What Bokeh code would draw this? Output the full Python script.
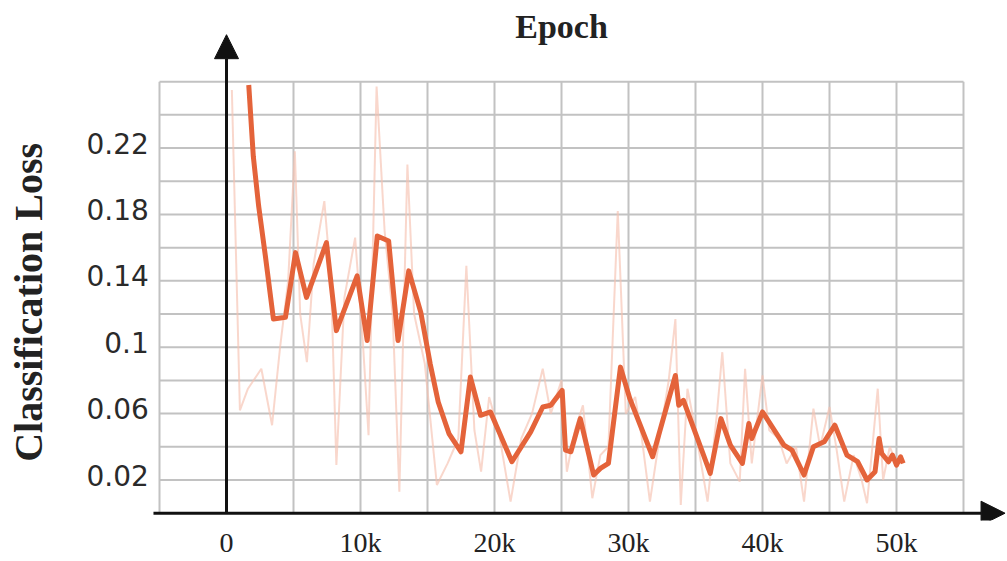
import numpy as np
from bokeh.plotting import figure
from bokeh.models import Arrow, NormalHead, FixedTicker
from bokeh.core.properties import value
from bokeh.embed import file_html
from bokeh.resources import INLINE

# ---------------- data ----------------
smooth_steps = [1660, 2000, 2400, 2900, 3500, 4400, 5150, 5970, 7460, 8200, 9750, 10500,
                11250, 12100, 12800, 13600, 14500, 15200, 15800, 16600, 17500, 18200,
                18960, 19700, 21300, 22700, 23600, 24200, 25050, 25300, 25700, 26400,
                27400, 27900, 28500, 29400, 30100, 31800, 33500, 33750, 34100, 36100,
                36900, 37600, 38500, 38980, 39200, 40000, 41600, 42200, 43100, 43800,
                44600, 45400, 46300, 47100, 47800, 48400, 48700, 48900, 49400, 49700,
                50000, 50300, 50500]
smooth_loss = [0.258, 0.215, 0.185, 0.155, 0.117, 0.118, 0.157, 0.130, 0.163, 0.110, 0.143,
               0.104, 0.167, 0.164, 0.104, 0.146, 0.121, 0.090, 0.067, 0.048, 0.037, 0.082,
               0.059, 0.061, 0.031, 0.049, 0.064, 0.065, 0.074, 0.038, 0.037, 0.057, 0.023,
               0.027, 0.030, 0.088, 0.069, 0.034, 0.083, 0.065, 0.068, 0.024, 0.057, 0.041,
               0.030, 0.054, 0.045, 0.061, 0.041, 0.038, 0.023, 0.040, 0.043, 0.053, 0.035,
               0.031, 0.020, 0.025, 0.045, 0.036, 0.031, 0.035, 0.029, 0.034, 0.030]

raw_steps = [400, 1000, 1600, 2600, 3400, 4000, 4600, 5100, 5500, 6000, 6500, 7300, 7800,
             8200, 8800, 9600, 10200, 10600, 11200, 11800, 12400, 12900, 13500, 14000,
             14800, 15700, 16500, 17300, 17900, 18500, 19000, 19600, 20300, 21200, 22000,
             22800, 23600, 24200, 25000, 25400, 26000, 26600, 27300, 27900, 28500, 29200,
             29800, 30500, 31000, 31600, 32400, 33000, 33500, 33900, 34400, 35000, 35900,
             36600, 37000, 37600, 38300, 38700, 39200, 40000, 40500, 41200, 41800, 42500,
             43100, 43800, 44300, 45000, 45500, 46100, 46800, 47400, 47800, 48200, 48600,
             49000, 49500, 50000]
raw_loss = [0.255, 0.062, 0.075, 0.087, 0.053, 0.100, 0.140, 0.218, 0.120, 0.091, 0.150,
            0.188, 0.140, 0.029, 0.130, 0.166, 0.100, 0.047, 0.257, 0.170, 0.120, 0.013,
            0.210, 0.120, 0.090, 0.017, 0.030, 0.045, 0.149, 0.050, 0.025, 0.070, 0.050,
            0.007, 0.045, 0.060, 0.087, 0.060, 0.080, 0.025, 0.050, 0.065, 0.009, 0.035,
            0.040, 0.182, 0.060, 0.070, 0.045, 0.007, 0.050, 0.080, 0.117, 0.005, 0.075,
            0.050, 0.007, 0.060, 0.097, 0.030, 0.019, 0.087, 0.030, 0.083, 0.050, 0.045,
            0.030, 0.040, 0.007, 0.063, 0.040, 0.064, 0.040, 0.007, 0.035, 0.020, 0.006,
            0.040, 0.075, 0.020, 0.040, 0.030]

x_ticks = [0, 10000, 20000, 30000, 40000, 50000]
x_tick_labels = ["0", "10k", "20k", "30k", "40k", "50k"]
y_ticks = [0.02, 0.06, 0.10, 0.14, 0.18, 0.22]
y_tick_labels = ["0.02", "0.06", "0.1", "0.14", "0.18", "0.22"]

title_text = "Epoch"
y_label_text = "Classification Loss"

# grid extent of the original chart
GX_MIN, GX_MAX, GX_STEP = -5000, 55000, 5000
GY_MIN, GY_MAX, GY_STEP = 0.0, 0.26, 0.02

# ---------------- figure ----------------
p = figure(width=1006, height=560, output_backend="svg", toolbar_location=None,
           x_range=(-16866, 58209), y_range=(-0.0044, 0.3089),
           min_border_left=0, min_border_right=0, min_border_top=0,
           min_border_bottom=40)
p.outline_line_color = None
p.xgrid.visible = False
p.ygrid.visible = False
p.yaxis.visible = False
p.background_fill_color = "white"
p.border_fill_color = "white"

# grid as segments
gx = np.arange(GX_MIN, GX_MAX + 1, GX_STEP)
gy = np.arange(GY_MIN + GY_STEP, GY_MAX + GY_STEP / 2, GY_STEP)
p.segment(x0=gx, y0=np.full(len(gx), GY_MIN), x1=gx, y1=np.full(len(gx), GY_MAX),
          line_color="#c2c2c2", line_width=2)
p.segment(x0=np.full(len(gy), GX_MIN), y0=gy, x1=np.full(len(gy), GX_MAX), y1=gy,
          line_color="#c2c2c2", line_width=2)

# series
p.line(raw_steps, raw_loss, line_color="#f6c2b0", line_alpha=0.65, line_width=2)
p.line(smooth_steps, smooth_loss, line_color="#e4633a", line_width=5,
       line_join="round")

# x axis (bottom)
ax = p.xaxis[0]
ax.axis_line_color = None
ax.major_tick_line_color = None
ax.minor_tick_line_color = None
ax.major_tick_out = 0
ax.major_tick_in = 0
ax.minor_tick_out = 0
ax.minor_tick_in = 0
ax.ticker = FixedTicker(ticks=x_ticks)
ax.major_label_overrides = dict(zip(x_ticks, x_tick_labels))
ax.major_label_text_font = "Liberation Serif"
ax.major_label_text_font_size = "28px"
ax.major_label_text_color = "#222222"
ax.major_label_standoff = 6

# y tick labels (left of the grid)
p.text(x=np.full(len(y_ticks), GX_MIN - 800), y=y_ticks, text=y_tick_labels,
       text_align="right", text_baseline="middle", y_offset=-5,
       text_font=value("DejaVu Sans"), text_font_size="28px", text_color="#2a2a2a")

# y axis title
p.text(x=[-14800], y=[0.127], text=[y_label_text], angle=np.pi / 2,
       text_align="center", text_baseline="middle",
       text_font=value("Liberation Serif"), text_font_style="bold",
       text_font_size="40px", text_color="#222222")

# top title
p.text(x=[25000], y=[0.2932], text=[title_text],
       text_align="center", text_baseline="middle",
       text_font=value("Liberation Serif"), text_font_style="bold",
       text_font_size="34px", text_color="#222222")

# axis arrows
p.add_layout(Arrow(end=NormalHead(size=24, fill_color="#111111", line_color="#111111"),
                   x_start=-5450, y_start=0, x_end=58100, y_end=0,
                   line_color="#111111", line_width=3))
p.add_layout(Arrow(end=NormalHead(size=24, fill_color="#111111", line_color="#111111"),
                   x_start=0, y_start=0, x_end=0, y_end=0.2883,
                   line_color="#111111", line_width=3))

open("out.html", "w").write(file_html(p, INLINE))
